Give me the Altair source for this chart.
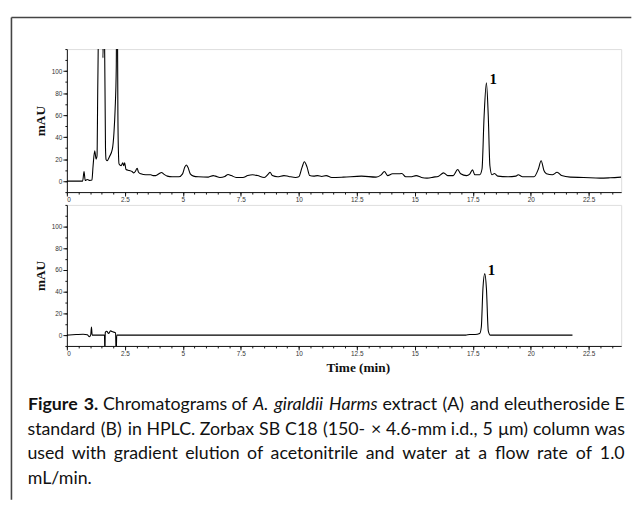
import altair as alt
import pandas as pd

# ---------------- data ----------------
# Panel A: A. giraldii Harms extract
a_time = [0.0, 0.68, 0.74, 0.79, 0.88, 0.99, 1.08, 1.13, 1.2, 1.26, 1.3, 1.33, 1.36, 1.42, 1.5,
          1.555, 1.585, 1.62, 1.665, 1.69, 1.73, 1.84, 1.96, 2.03, 2.08, 2.13, 2.155, 2.18, 2.2,
          2.22, 2.25, 2.34, 2.41, 2.45, 2.49, 2.55, 2.69, 2.81, 2.88, 2.95, 3.03, 3.09, 3.19,
          3.4, 3.62, 3.72, 3.83, 3.97, 4.08, 4.18, 4.33, 4.54, 4.82, 4.99, 5.08, 5.15, 5.22,
          5.32, 5.46, 5.67, 6.1, 6.31, 6.41, 6.6, 6.81, 6.95, 7.09, 7.3, 7.59, 7.8, 8.01, 8.22,
          8.51, 8.68, 8.76, 8.86, 9.08, 9.36, 9.57, 9.86, 10.0, 10.14, 10.24, 10.36, 10.47,
          10.64, 10.81, 10.99, 11.18, 11.42, 11.92, 12.7, 13.33, 13.55, 13.69, 13.83, 14.04,
          14.26, 14.44, 14.61, 14.82, 15.06, 15.29, 15.53, 15.81, 16.03, 16.24, 16.42, 16.66,
          16.85, 16.98, 17.23, 17.37, 17.49, 17.59, 17.8, 17.9, 17.99, 18.09, 18.17, 18.24,
          18.33, 18.44, 18.58, 19.01, 19.36, 19.46, 19.65, 20.14, 20.33, 20.45, 20.57, 20.68,
          20.93, 21.14, 21.33, 21.71, 22.28, 22.99, 23.42, 23.9]
a_mau = [0, 0, 8.7, 0.6, 1.5, 0.6, 1.0, 14, 27.5, 20, 23, 82, 140, 400, 300,
         112, 150, 140, 30, 19.5, 18.5, 22.4, 29, 44, 65, 104, 220, 150, 60,
         29, 15.5, 14, 16.6, 14, 16.6, 10.5, 9.6, 8.7, 7.5, 8.7, 11.6, 8, 6.6,
         5.7, 5.7, 5, 5, 6.6, 7.8, 6.3, 4.5, 3.9, 3.9, 6.6, 12.5, 14.6, 12.5,
         6.6, 4.5, 3.9, 3.6, 5, 4.5, 3.3, 4.2, 6, 5, 3.3, 3.3, 5, 5.7, 5,
         3.3, 6.3, 8, 5, 3.9, 5, 4.2, 3.3, 3.9, 12.5, 17.6, 12.5, 5,
         4.5, 5, 4.2, 5, 3.3, 3.6, 4.5, 3.6, 5.7, 8.7, 5, 6.6,
         6.6, 6.9, 3.9, 3.9, 5, 3.3, 2.7, 3.6, 4.5, 7.5, 5, 5,
         10.5, 6.6, 5, 6.3, 10.2, 5.7, 5.7, 11, 59, 89.3, 59, 14,
         5.7, 6.9, 4.5, 3.9, 4.5, 5.7, 3.9, 3.9, 11, 18.5, 9.6, 6.6,
         5.7, 8, 5, 3.6, 3.3, 2.7, 3, 3.6]

# Panel B: eleutheroside E standard
b_time = [0.0, 0.4, 0.7, 0.88, 0.97, 1.03, 1.06, 1.09, 1.62, 1.64, 1.655, 1.72, 1.8, 1.88,
          1.98, 2.1, 2.125, 2.15, 5.0, 10.0, 15.0, 17.2, 17.37, 17.6, 17.8, 17.87, 17.94,
          18.02, 18.09, 18.17, 18.26, 21.8]
b_mau = [0, 0.5, 0.8, 0.3, -1.5, 0.5, 7.5, 0, 0, -20, 2.5, 3.5, 1.5, 3.9,
         3.0, 2.0, -20, 0, 0, 0, 0, 0, 0.6, 0.6, 1.5, 7.5, 43,
         56.7, 43, 4, 0, 0]

peak_label = ["1"]
a_peak_t, a_peak_v = [18.09], [89.3]
b_peak_t, b_peak_v = [18.02], [56.7]

x_major = [0, 2.5, 5, 7.5, 10, 12.5, 15, 17.5, 20, 22.5]
x_minor = [i * 0.5 for i in range(0, 48)]
y_major = [0, 20, 40, 60, 80, 100]
y_minor = list(range(-10, 121, 10))

y_title = "mAU"
x_title = "Time (min)"

# caption: (word, style) per line; lines 1-3 are justified, line 4 is left aligned
cap_line1 = [("Figure", "b"), ("3.", "b"), ("Chromatograms", ""), ("of", ""), ("A.", "i"),
             ("giraldii", "i"), ("Harms", "i"), ("extract", ""), ("(A)", ""), ("and", ""),
             ("eleutheroside", ""), ("E", "")]
cap_line2 = "standard (B) in HPLC. Zorbax SB C18 (150- \u00d7 4.6-mm i.d., 5 \u03bcm) column was"
cap_line3 = "used with gradient elution of acetonitrile and water at a flow rate of 1.0"
cap_line4 = "mL/min."

# ---------------- layout ----------------
W = 562
H_TOP = 145
H_BOT = 143
X_DOM = [0, 23.9]
Y_DOM = [-10, 120]
OX, OY = 66.7, 45  # page position of top plot origin

SERIF = "Liberation Serif"
SANS = "Liberation Sans"
CAP_FONT = "Lato"
CAP_SIZE = 18
CAP_L, CAP_R = 27, 632

# approximate Lato advance widths (em) used only to spread words over a justified line
_EM = {}
_EM.update(dict(zip("abcdefghijklmnopqrstuvwxyz",
                    [.50, .56, .45, .56, .52, .33, .50, .55, .24, .24, .49, .24, .80, .55, .55,
                     .55, .55, .36, .41, .34, .55, .50, .75, .48, .50, .44])))
_EM.update(dict(zip("ABCDEFGHIJKLMNOPQRSTUVWXYZ",
                    [.66, .62, .64, .72, .54, .52, .70, .73, .27, .38, .63, .47, .88, .73, .77,
                     .58, .77, .60, .51, .56, .70, .65, .98, .63, .60, .60])))
_EM.update({d: .58 for d in "0123456789"})
_EM.update({".": .21, ",": .21, "(": .30, ")": .30, "-": .35, "\u00d7": .58, "\u03bc": .56,
            "/": .38, " ": .26})


def est_width(word, style):
    w = sum(_EM.get(c, .55) for c in word) * CAP_SIZE
    if style == "b":
        w *= 1.05
    elif style == "i":
        w *= 0.97
    return w


def justify(words):
    widths = [est_width(w, s) for w, s in words]
    gap = (CAP_R - CAP_L - sum(widths)) / (len(words) - 1)
    centers, x = [], CAP_L
    for wd in widths:
        centers.append(x + wd / 2)
        x += wd + gap
    return centers


def panel(times, values, pt, pv, height, title):
    df = pd.DataFrame({"t": times, "v": values})
    lab = pd.DataFrame({"t": pt, "v": pv, "label": peak_label})
    xs = alt.Scale(domain=X_DOM, nice=False, zero=False)
    ys = alt.Scale(domain=Y_DOM, nice=False, zero=False)
    common = dict(labelFont=SANS, labelFontSize=6.5, labelColor="#333", tickColor="#111",
                  domainColor="#111", grid=False, labelExpr="'' + datum.value")
    xa = alt.Axis(values=x_major, orient="bottom", tickSize=4, labelPadding=1,
                  title=title, titleFont=SERIF, titleFontSize=13.5, titleFontWeight="bold",
                  titleColor="#111", titleX=295, titleY=22, titleBaseline="middle",
                  titleAlign="center", **common)
    ya = alt.Axis(values=y_major, orient="left", tickSize=4, labelPadding=1, title=y_title,
                  titleFont=SERIF, titleFontSize=13.5, titleFontWeight="bold", titleColor="#111",
                  titleX=-27, titleY=height / 2, titleAngle=270, titleAlign="center",
                  titleBaseline="middle", **common)
    xm = alt.Axis(values=x_minor, orient="bottom", tickSize=2, labels=False, domain=False,
                  title="", tickColor="#111", grid=False)
    ym = alt.Axis(values=y_minor, orient="left", tickSize=2, labels=False, domain=False,
                  title="", tickColor="#111", grid=False)
    line = alt.Chart(df).mark_line(color="black", strokeWidth=1.1, clip=True,
                                   interpolate="monotone").encode(
        x=alt.X("t:Q", scale=xs, axis=xa), y=alt.Y("v:Q", scale=ys, axis=ya))
    txt = alt.Chart(lab).mark_text(align="left", baseline="alphabetic", dx=3, dy=1, font=SERIF,
                                   fontSize=15, fontWeight="bold", color="black").encode(
        x=alt.X("t:Q", scale=xs, axis=xm), y=alt.Y("v:Q", scale=ys, axis=ym), text="label:N")
    return [line, txt]


one = pd.DataFrame({"d": [0]})


def rule(x1, x2, y1, y2):
    return alt.Chart(one).mark_rule(color="#444", strokeWidth=1.6).encode(
        x=alt.value(x1 - OX), x2=alt.value(x2 - OX), y=alt.value(y1 - OY), y2=alt.value(y2 - OY))


def cap(text, x, y, align="left", style=""):
    kw = {}
    if style == "b":
        kw["fontWeight"] = "bold"
    elif style == "i":
        kw["fontStyle"] = "italic"
    return alt.Chart(one).mark_text(align=align, baseline="alphabetic", font=CAP_FONT,
                                    fontSize=CAP_SIZE, color="#111", **kw).encode(
        x=alt.value(x - OX), y=alt.value(y - OY), text=alt.value(text))


def justified_line(words, baseline):
    return [cap(w, c, baseline, align="center", style=s)
            for (w, s), c in zip(words, justify(words))]


B1, B2, B3, B4 = 411, 436, 461, 486
decor = [rule(10.5, 639, 13, 13), rule(10.5, 10.5, 13, 502)]
decor += justified_line(cap_line1, B1)
decor += justified_line([(w, "") for w in cap_line2.split(" ")], B2)
decor += justified_line([(w, "") for w in cap_line3.split(" ")], B3)
decor.append(cap(cap_line4, CAP_L, B4))

top_layers = panel(a_time, a_mau, a_peak_t, a_peak_v, H_TOP, "")
top = alt.layer(*top_layers, *decor).resolve_axis(x="independent", y="independent").properties(
    width=W, height=H_TOP)

bottom = alt.layer(*panel(b_time, b_mau, b_peak_t, b_peak_v, H_BOT, x_title)).resolve_axis(
    x="independent", y="independent").properties(width=W, height=H_BOT)

chart = alt.vconcat(top, bottom, spacing=13, bounds="flush").properties(
    padding={"left": 1.7, "top": 4.2, "right": 0, "bottom": 0}
).configure_view(stroke=None).configure(background="white")

chart.save("out.html", embed_options={"renderer": "svg", "actions": False})
